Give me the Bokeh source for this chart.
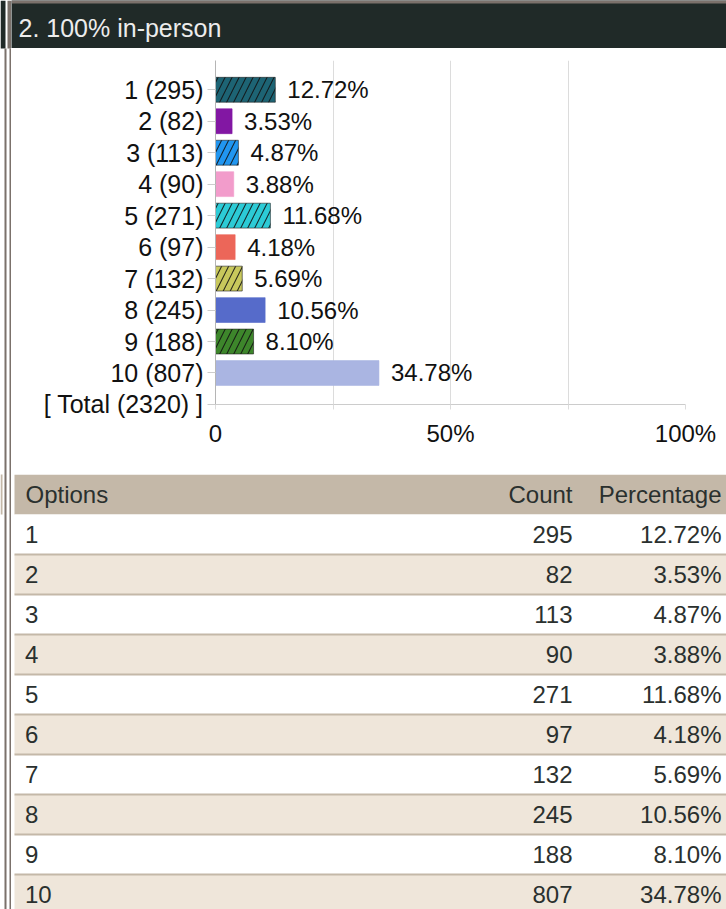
from bokeh.plotting import figure
from bokeh.models import Range1d, FixedTicker, ColumnDataSource, BoxAnnotation
from bokeh.layouts import row, column
from bokeh.embed import file_html
from bokeh.resources import INLINE
from bokeh.core.properties import value

# ---------------- data ----------------
title = "2. 100% in-person"
options = ["1", "2", "3", "4", "5", "6", "7", "8", "9", "10"]
counts = [295, 82, 113, 90, 271, 97, 132, 245, 188, 807]
percentages = [12.72, 3.53, 4.87, 3.88, 11.68, 4.18, 5.69, 10.56, 8.10, 34.78]
total = 2320
bar_colors = ["#1d6474", "#8217a3", "#2196f0", "#f29ccb", "#2ccbd6",
              "#ec6659", "#c8c85c", "#566bca", "#3d862b", "#aab5e2"]
hatched = [True, False, True, False, True, False, True, False, True, False]
x_ticks = [0, 25, 50, 75, 100]
x_tick_labels = ["0", "", "50%", "", "100%"]
table_headers = ["Options", "Count", "Percentage"]

FONT = "Liberation Sans"
FS = "24px"
TXT = "#2a302e"
TAN = "#c4b8a8"
ALT = "#efe6da"
DARK = "#202a28"
BORDER = "#7b716b"

def bare(fig):
    fig.grid.visible = False
    fig.outline_line_color = None
    return fig

def box(fig, l, r, t, b, c):
    fig.add_layout(BoxAnnotation(left=l, right=r, top=t, bottom=b, fill_color=c,
                                 fill_alpha=1, line_color=None, level="underlay"))

# ---------------- left border strip (page frame) ----------------
strip = bare(figure(width=11, height=909, x_range=Range1d(0, 11), y_range=Range1d(909, 0),
                    output_backend="svg", toolbar_location=None, min_border=0,
                    x_axis_type=None, y_axis_type=None, frame_align=False))
box(strip, 0, 5, 0, 48, DARK)
box(strip, 7, 11, 0, 48, BORDER)
box(strip, 0, 2, 474, 514, TAN)
box(strip, 4, 6, 48, 909, BORDER)
box(strip, 9, 11, 48, 909, BORDER)

# ---------------- header ----------------
hdr = bare(figure(width=715, height=48, x_range=Range1d(11, 726), y_range=Range1d(48, 0),
                  output_backend="svg", toolbar_location=None, min_border=0,
                  x_axis_type=None, y_axis_type=None, frame_align=False,
                  background_fill_color=DARK, border_fill_color=DARK))
box(hdr, 11, 726, 0, 3, BORDER)
hdr.text(x=[18], y=[27.5], text=[title], text_font=value(FONT), text_font_size="25px",
         text_color="#ececec", text_baseline="middle", text_align="left")

# ---------------- bar chart ----------------
idx = list(range(len(options)))
cat_labels = [f"{o} ({c})" for o, c in zip(options, counts)] + [f"[ Total ({total}) ]"]
pct_labels = [f"{p:.2f}%" for p in percentages]

src = ColumnDataSource(dict(
    y=idx, pct=percentages, color=bar_colors,
    hatch=["/" if h else " " for h in hatched],
    line=["#222222" if h else c for h, c in zip(hatched, bar_colors)],
    label=pct_labels,
))

p = figure(width=715, height=426, x_range=Range1d(0, 100), y_range=Range1d(10.001, -0.93),
           min_border_left=204, min_border_right=41, min_border_top=12, min_border_bottom=70,
           output_backend="svg", toolbar_location=None, frame_align=False)
p.outline_line_color = None
p.ygrid.visible = False
p.xgrid.ticker = FixedTicker(ticks=x_ticks)
p.xgrid.grid_line_color = "#dcdcdc"

p.hbar(y="y", left=0, right="pct", height=0.79, source=src, fill_color="color",
       line_color="line", line_alpha=0.6, line_width=1,
       hatch_pattern="hatch", hatch_color="#111111", hatch_scale=14, hatch_weight=1.1,
       hatch_alpha=0.85)
p.text(x="pct", y="y", text="label", source=src, x_offset=12, text_align="left",
       text_baseline="middle", text_font=value(FONT), text_font_size=FS, text_color="#111111")

ya = p.yaxis[0]
ya.ticker = FixedTicker(ticks=list(range(len(cat_labels))))
ya.major_label_overrides = {i: s for i, s in enumerate(cat_labels)}
ya.major_label_text_font = FONT
ya.major_label_text_font_size = "25px"
ya.major_label_text_color = "#111111"
ya.major_tick_out = 8
ya.major_tick_in = 0
ya.major_tick_line_color = "#cccccc"
ya.minor_tick_line_color = None
ya.axis_line_color = "#b5b5b5"
ya.major_label_standoff = 4

xa = p.xaxis[0]
xa.ticker = FixedTicker(ticks=x_ticks)
xa.major_label_overrides = {t: s for t, s in zip(x_ticks, x_tick_labels)}
xa.major_label_text_font = FONT
xa.major_label_text_font_size = FS
xa.major_label_text_color = "#111111"
xa.major_tick_out = 5
xa.major_tick_in = 0
xa.major_tick_line_color = "#dcdcdc"
xa.minor_tick_line_color = None
xa.axis_line_color = "#cccccc"
xa.major_label_standoff = 10

# ---------------- table ----------------
tsrc = ColumnDataSource(dict(
    top=idx, bottom=[i + 1 for i in idx], mid=[i + 0.5 for i in idx],
    fill=["#ffffff" if i % 2 == 0 else ALT for i in idx],
    opt=options, cnt=[str(c) for c in counts], pct=pct_labels,
))
t = bare(figure(width=715, height=435, x_range=Range1d(11, 726), y_range=Range1d(9.875, -1),
                output_backend="svg", toolbar_location=None, min_border=0,
                x_axis_type=None, y_axis_type=None, frame_align=False))
t.quad(left=14, right=726, top=-1, bottom=0, fill_color=TAN, line_color=None)
t.quad(left=14, right=726, top="top", bottom="bottom", fill_color="fill", line_color=None,
       source=tsrc)
sep = ColumnDataSource(dict(y=[i + 1 for i in idx[:-1]]))
t.segment(x0=14, x1=726, y0="y", y1="y", line_color=TAN, line_width=2, source=sep)

common = dict(text_font=value(FONT), text_font_size=FS, text_color=TXT, text_baseline="middle")
t.text(x=[25], y=[-0.5], text=[table_headers[0]], text_align="left", **common)
t.text(x=[572], y=[-0.5], text=[table_headers[1]], text_align="right", **common)
t.text(x=[721], y=[-0.5], text=[table_headers[2]], text_align="right", **common)
t.text(x=24.5, y="mid", text="opt", source=tsrc, text_align="left", **common)
t.text(x=572, y="mid", text="cnt", source=tsrc, text_align="right", **common)
t.text(x=721, y="mid", text="pct", source=tsrc, text_align="right", **common)

layout = row(strip, column(hdr, p, t))
open("out.html", "w").write(file_html(layout, INLINE))
